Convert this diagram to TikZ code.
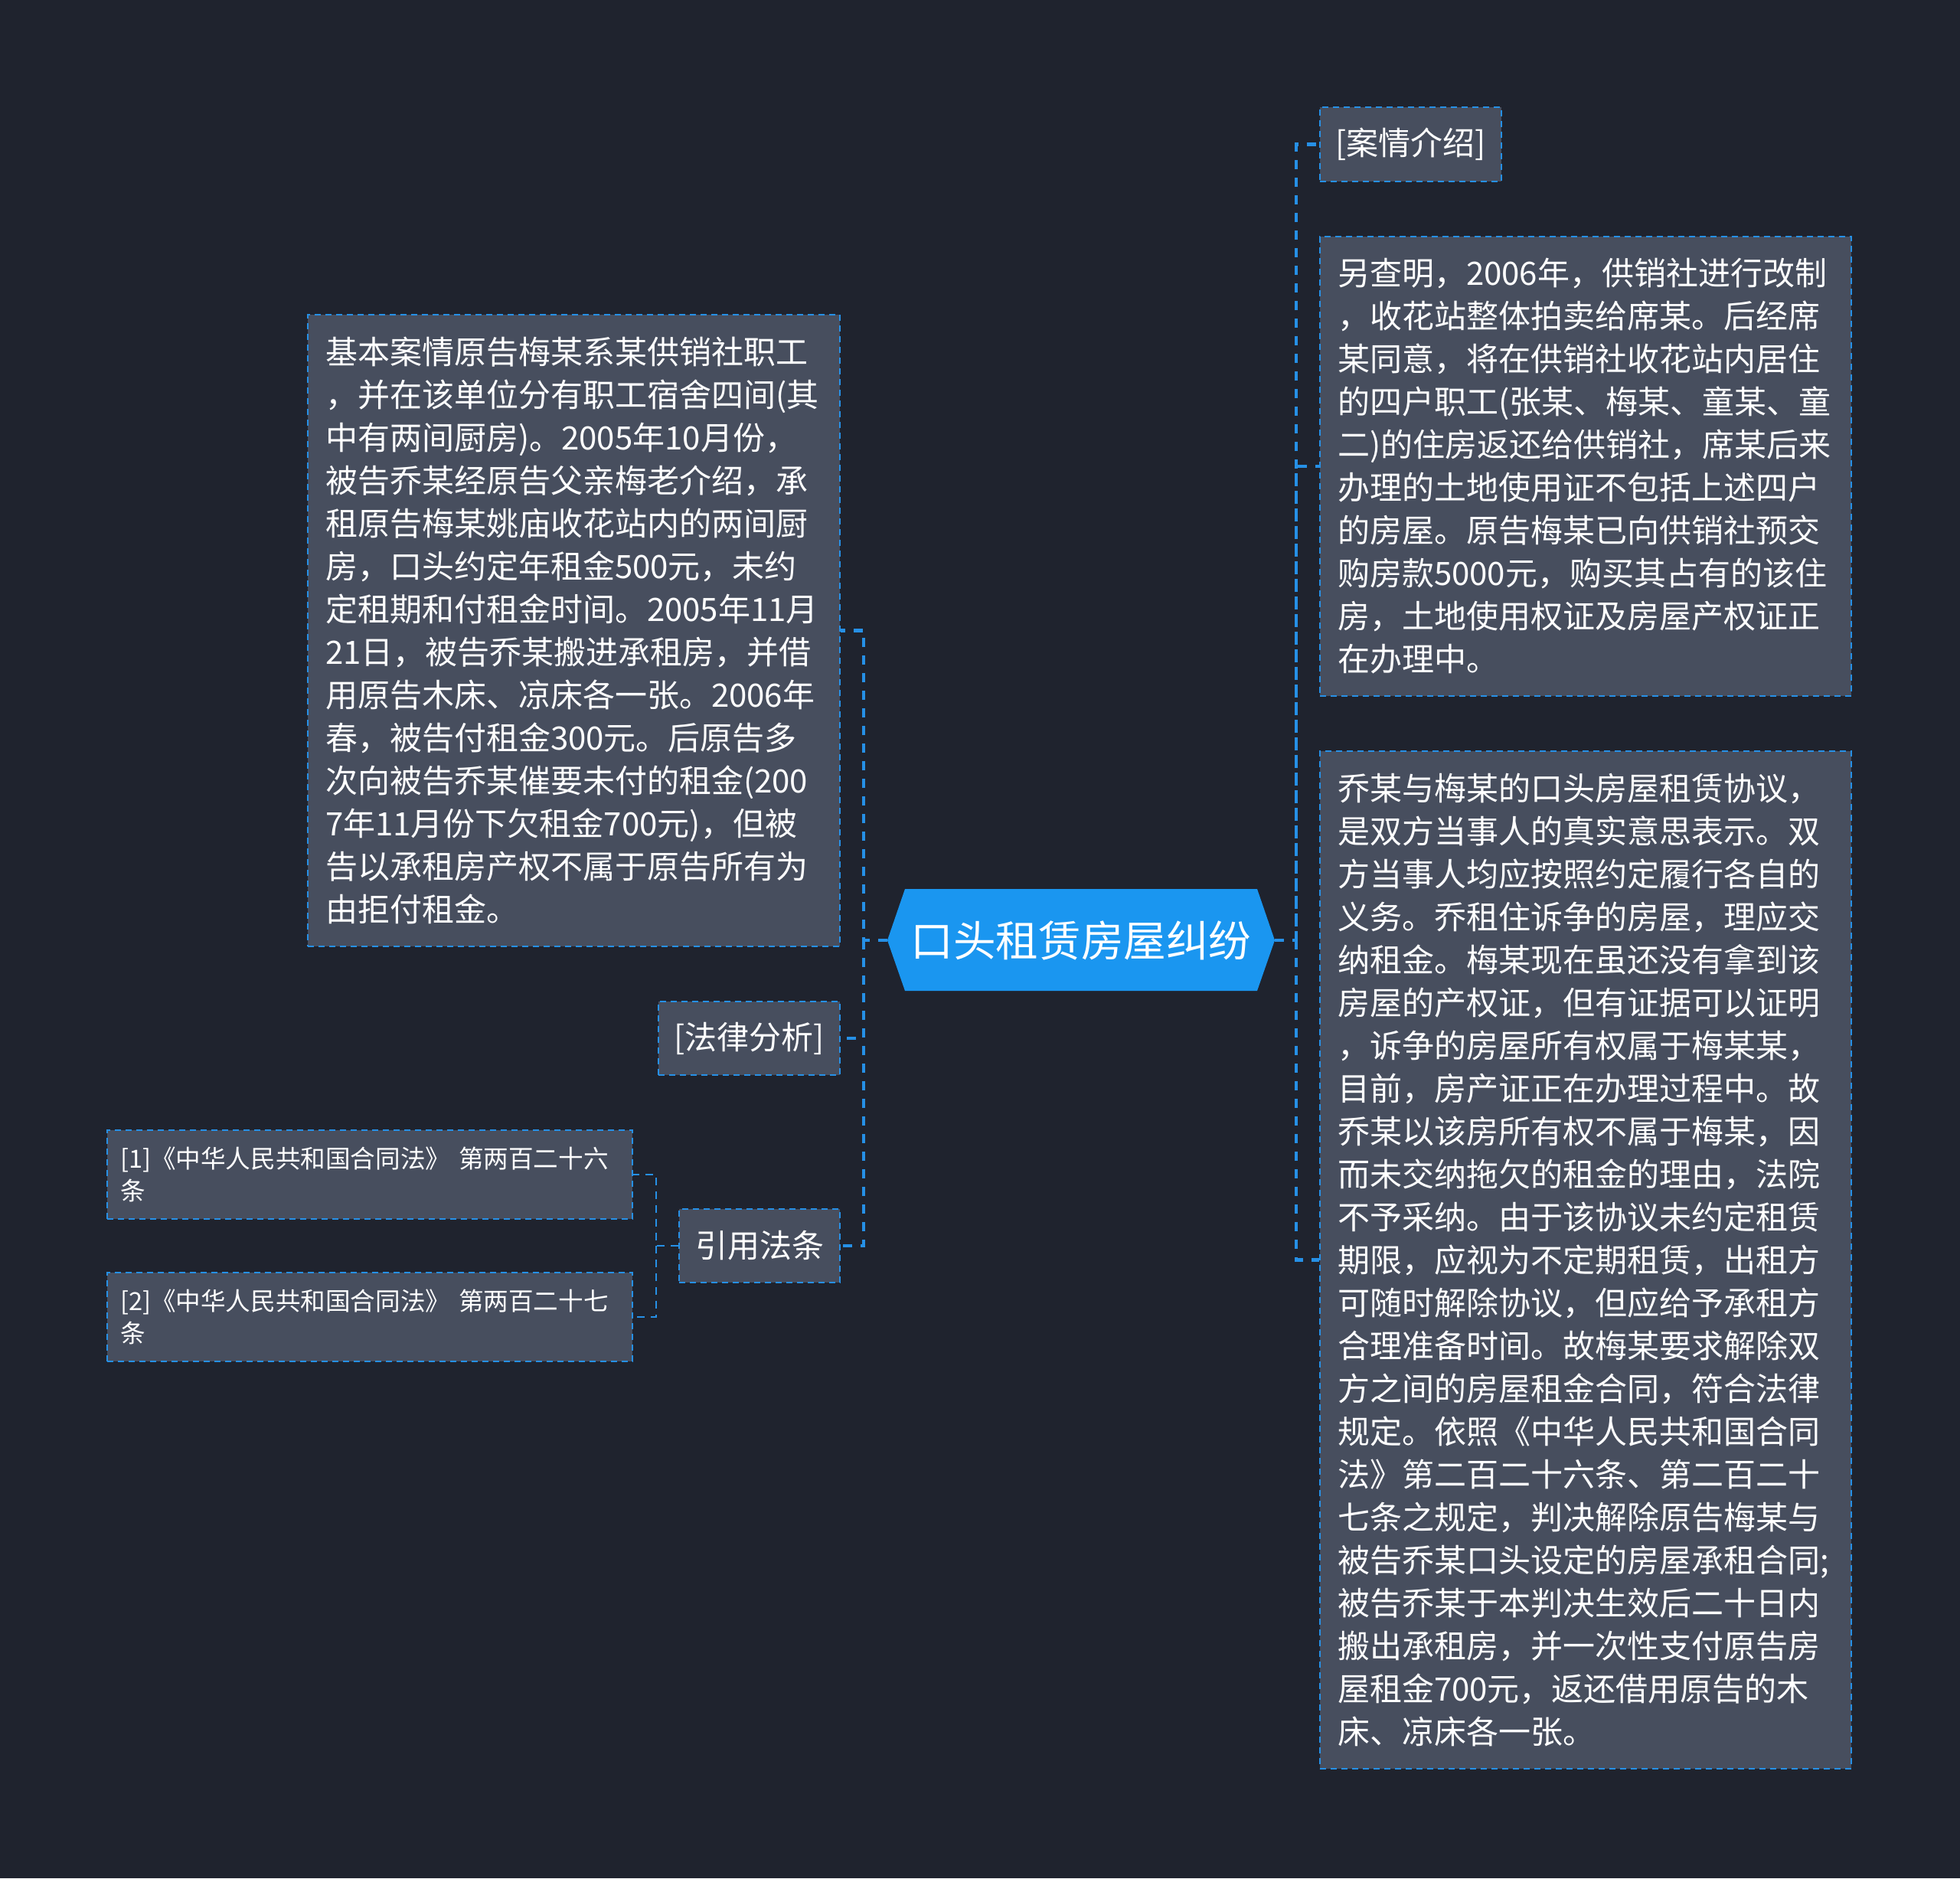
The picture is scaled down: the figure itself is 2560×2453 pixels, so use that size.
\documentclass[tikz,border=0pt]{standalone}
\usepackage{fontspec}
\setmainfont{Noto Sans CJK SC}
\definecolor{bgc}{HTML}{1F232E}
\definecolor{boxc}{HTML}{474E5E}
\definecolor{linec}{HTML}{2690E6}
\definecolor{rootc}{HTML}{1A96F0}
\tikzset{
  mainconn/.style={draw=linec, line width=2.4pt, dash pattern=on 6pt off 5.5pt},
  lawconn/.style={draw=linec, line width=1pt, dash pattern=on 5pt off 4pt},
  boxbase/.style={rectangle, fill=boxc, draw=linec, line width=1.2pt,
    dash pattern=on 4pt off 3pt, text=white, inner ysep=0pt},
  bigbox/.style={boxbase, align=left, inner xsep=11.5pt,
    font=\fontsize{21}{28}\selectfont},
  smallbox/.style={boxbase, align=center, inner xsep=0pt,
    font=\fontsize{21}{28}\selectfont},
  lawbox/.style={boxbase, align=left, inner xsep=8.5pt, text width=326pt,
    minimum height=58pt, font=\fontsize{16.3}{21.2}\selectfont},
}
\begin{document}
\begin{tikzpicture}[x=0.5pt,y=-0.5pt]
\fill[bgc] (0,0) rectangle (2560,2453);
\useasboundingbox (0,0) rectangle (2560,2453);

% root hexagon
\coordinate (rootL) at (1159,1228);
\coordinate (rootR) at (1665,1228);
\fill[rootc] (rootL) -- (1182,1161) -- (1642,1161) -- (rootR) -- (1642,1294) -- (1182,1294) -- cycle;
\node[text=white, font=\fontsize{27.8}{32}\selectfont, inner sep=0pt] (root) at (1412,1228) {口头租赁房屋纠纷};

% right side
\node[smallbox, minimum width=118.5pt, minimum height=48.5pt] (case) at (1842.5,188.5) {[案情介绍]};
\node[bigbox, text width=324pt, minimum height=300pt] (r1) at (2071,609) {另查明，2006年，供销社进行改制\\，收花站整体拍卖给席某。后经席\\某同意，将在供销社收花站内居住\\的四户职工(张某、梅某、童某、童\\二)的住房返还给供销社，席某后来\\办理的土地使用证不包括上述四户\\的房屋。原告梅某已向供销社预交\\购房款5000元，购买其占有的该住\\房，土地使用权证及房屋产权证正\\在办理中。};
\node[bigbox, text width=324pt, minimum height=664.5pt] (r2) at (2071,1645.5) {乔某与梅某的口头房屋租赁协议，\\是双方当事人的真实意思表示。双\\方当事人均应按照约定履行各自的\\义务。乔租住诉争的房屋，理应交\\纳租金。梅某现在虽还没有拿到该\\房屋的产权证，但有证据可以证明\\，诉争的房屋所有权属于梅某某，\\目前，房产证正在办理过程中。故\\乔某以该房所有权不属于梅某，因\\而未交纳拖欠的租金的理由，法院\\不予采纳。由于该协议未约定租赁\\期限，应视为不定期租赁，出租方\\可随时解除协议，但应给予承租方\\合理准备时间。故梅某要求解除双\\方之间的房屋租金合同，符合法律\\规定。依照《中华人民共和国合同\\法》第二百二十六条、第二百二十\\七条之规定，判决解除原告梅某与\\被告乔某口头设定的房屋承租合同;\\被告乔某于本判决生效后二十日内\\搬出承租房，并一次性支付原告房\\屋租金700元，返还借用原告的木\\床、凉床各一张。};

% left side
\node[bigbox, text width=324.5pt, minimum height=412.5pt] (l1) at (749.5,823.5) {基本案情原告梅某系某供销社职工\\，并在该单位分有职工宿舍四间(其\\中有两间厨房)。2005年10月份，\\被告乔某经原告父亲梅老介绍，承\\租原告梅某姚庙收花站内的两间厨\\房，口头约定年租金500元，未约\\定租期和付租金时间。2005年11月\\21日，被告乔某搬进承租房，并借\\用原告木床、凉床各一张。2006年\\春，被告付租金300元。后原告多\\次向被告乔某催要未付的租金(200\\7年11月份下欠租金700元)，但被\\告以承租房产权不属于原告所有为\\由拒付租金。};
\node[smallbox, minimum width=118.5pt, minimum height=48pt] (ana) at (978.5,1356) {[法律分析]};
\node[smallbox, minimum width=105pt, minimum height=48pt] (cite) at (992,1627) {引用法条};
\node[lawbox] (law1) at (483,1534) {[1]《中华人民共和国合同法》 第两百二十六\\条};
\node[lawbox] (law2) at (483,1720) {[2]《中华人民共和国合同法》 第两百二十七\\条};

% connectors
\coordinate (lbus) at (1128,1228);
\coordinate (rbus) at (1693,1228);
\coordinate (cbus) at (857,1627);
\draw[mainconn] (rootL) -- (lbus) |- (l1.east);
\draw[mainconn] (lbus) |- (ana.east);
\draw[mainconn] (lbus) |- (cite.east);
\draw[mainconn] (rootR) -- (rbus) |- (case.west);
\draw[mainconn] (rbus) |- (r1.west);
\draw[mainconn] (rbus) |- (r2.west);
\draw[lawconn] (cite.west) -- (cbus) |- (law1.east);
\draw[lawconn] (cbus) |- (law2.east);
\end{tikzpicture}
\end{document}
